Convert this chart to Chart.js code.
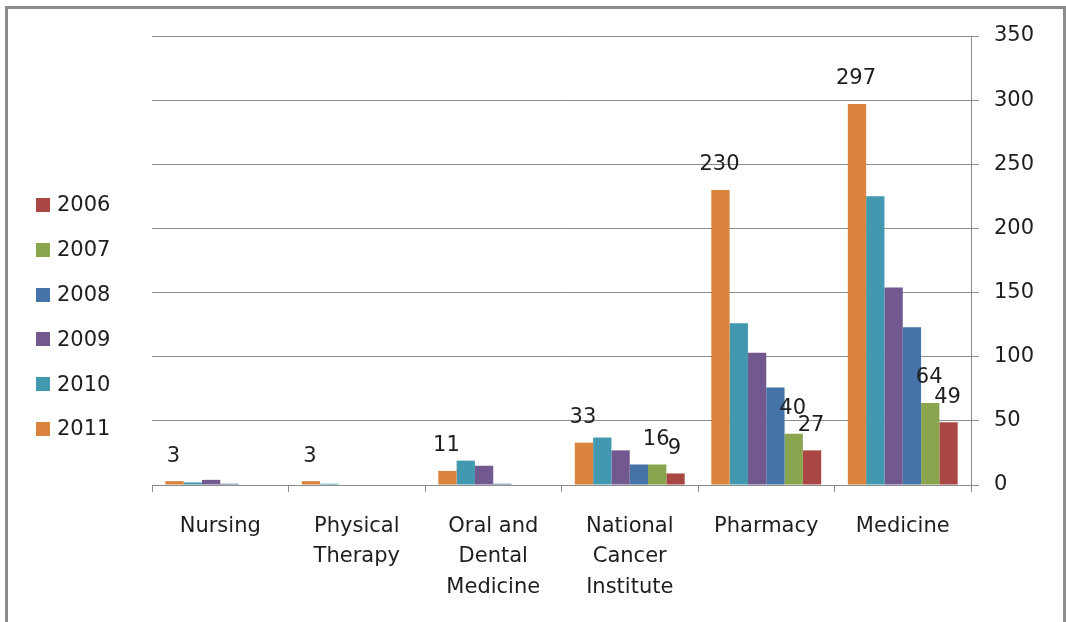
<!DOCTYPE html>
<html>
<head>
<meta charset="utf-8">
<script src="https://cdn.jsdelivr.net/npm/chart.js@4/dist/chart.umd.min.js"></script>
<style>
html,body{margin:0;padding:0;background:#fff;}
#wrap{position:relative;width:1066px;height:622px;overflow:hidden;}
#frame{position:absolute;left:5px;top:6px;width:1061px;height:660px;border:3px solid #8c8c8c;box-sizing:border-box;pointer-events:none;}
canvas{position:absolute;left:0;top:0;}
</style>
</head>
<body>
<div id="wrap"><canvas id="c" width="1066" height="622"></canvas><div id="frame"></div></div>
<script>
// ---- data ----
const categories = [
  ['Nursing'],
  ['Physical', 'Therapy'],
  ['Oral and', 'Dental', 'Medicine'],
  ['National', 'Cancer', 'Institute'],
  ['Pharmacy'],
  ['Medicine']
];
const seriesNames = ['2011', '2010', '2009', '2008', '2007', '2006'];
const values2011 = [3, 3, 11, 33, 230, 297];
const values2010 = [2, 1, 19, 37, 126, 225];
const values2009 = [4, 0, 15, 27, 103, 154];
const values2008 = [1, 0, 1, 16, 76, 123];
const values2007 = [0, 0, 0, 16, 40, 64];
const values2006 = [0, 0, 0, 9, 27, 49];
const yTicks = [0, 50, 100, 150, 200, 250, 300, 350];
const labelledSeries = ['2011', '2007', '2006'];

// ---- styles ----
const seriesValues = [values2011, values2010, values2009, values2008, values2007, values2006];
const seriesColors = ['#DB843D', '#4198AF', '#71588F', '#4572A7', '#89A54E', '#AA4643'];
const FONT = '"DejaVu Sans", sans-serif';
const TEXT = '#1e1e1e';
const GRID = '#8c8c8c';

const overlay = {
  id: 'overlay',
  afterDatasetsDraw(chart) {
    const ctx = chart.ctx;
    ctx.save();
    ctx.font = '21px ' + FONT;
    ctx.fillStyle = TEXT;
    ctx.textAlign = 'center';
    ctx.textBaseline = 'middle';
    chart.data.datasets.forEach((ds, i) => {
      if (!labelledSeries.includes(ds.label)) return;
      const meta = chart.getDatasetMeta(i);
      meta.data.forEach((bar, j) => {
        const v = ds.data[j];
        if (!v) return;
        ctx.fillText(String(v), bar.x - 1, bar.y - 25);
      });
    });
    // legend (reverse order, on the left)
    const n = chart.data.datasets.length;
    ctx.textAlign = 'left';
    for (let k = 0; k < n; k++) {
      const ds = chart.data.datasets[n - 1 - k];
      const cy = 205 + k * 44.8;
      ctx.fillStyle = ds.backgroundColor;
      ctx.fillRect(36, Math.round(cy - 7), 14, 14);
      ctx.fillStyle = TEXT;
      ctx.fillText(ds.label, 57, cy + 1);
    }
    ctx.restore();
  }
};

new Chart(document.getElementById('c'), {
  type: 'bar',
  data: {
    labels: categories,
    datasets: seriesNames.map((name, i) => ({
      label: name,
      data: seriesValues[i],
      backgroundColor: seriesColors[i],
      borderWidth: 0,
      categoryPercentage: 0.805,
      barPercentage: 1
    }))
  },
  options: {
    responsive: false,
    animation: false,
    layout: { padding: { left: 152, top: 36, right: 0, bottom: 0 } },
    plugins: { legend: { display: false }, tooltip: { enabled: false } },
    scales: {
      x: {
        grid: { drawOnChartArea: false, drawTicks: true, tickLength: 7, color: GRID, offset: true },
        border: { display: true, color: GRID },
        ticks: { font: { family: FONT, size: 21, lineHeight: 1.43 }, color: TEXT, padding: 20, maxRotation: 0, autoSkip: false },
        afterFit(s) { s.height = 137; }
      },
      y: {
        position: 'right',
        min: 0,
        max: 350,
        afterBuildTicks(s) { s.ticks = yTicks.map(v => ({ value: v })); },
        grid: { color: GRID, tickLength: 8 },
        border: { display: true, color: GRID },
        ticks: { font: { family: FONT, size: 21 }, color: TEXT, padding: 15 },
        afterFit(s) { s.width = 95; }
      }
    }
  },
  plugins: [overlay]
});
</script>
</body>
</html>
